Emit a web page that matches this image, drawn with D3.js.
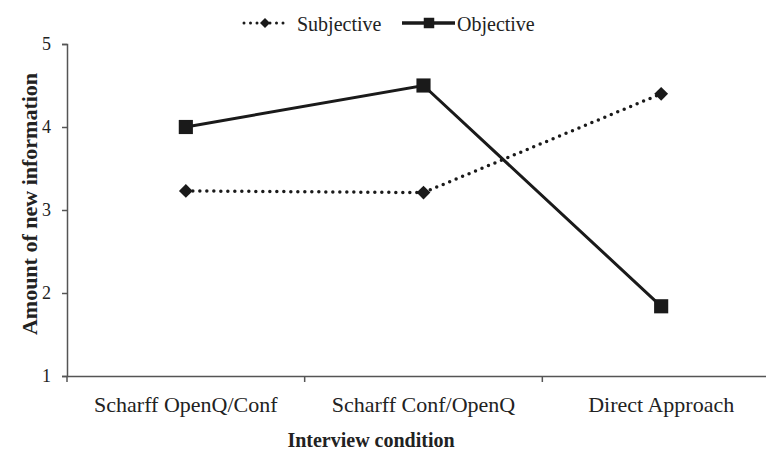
<!DOCTYPE html>
<html lang="en">
<head>
    <meta charset="UTF-8">
    <title>Amount of new information</title>
    <script src="https://cdn.jsdelivr.net/npm/d3@7"></script>
    <style>
        body { margin: 0; background: #fff; }
        text { font-family: "Liberation Serif", "Times New Roman", serif; fill: #222; }
    </style>
</head>
<body>
<script>
    const categories = ['Scharff OpenQ/Conf', 'Scharff Conf/OpenQ', 'Direct Approach']
    const subjective = [3.23, 3.21, 4.40]
    const objective = [4.0, 4.5, 1.84]
    const yTicks = [1, 2, 3, 4, 5]

    const [width, height] = [766, 452]
    const x = d3.scaleBand().domain(categories).range([67, 780])
    const y = d3.scaleLinear().domain([1, 5]).range([376, 44])
    const cx = d => x(d) + x.bandwidth() / 2

    const svg = d3.select('body').append('svg')
        .attr('width', width)
        .attr('height', height)

    // axes
    const yAxis = svg.append('g').attr('transform', 'translate(67,0)')
        .call(d3.axisLeft(y).tickValues(yTicks).tickFormat(d3.format('d')).tickSizeOuter(0).tickSize(5).tickPadding(11))
    yAxis.selectAll('text').style('font-size', '18px').attr('fill', '#222')
    const xAxis = svg.append('g').attr('transform', 'translate(0,376)')
        .call(d3.axisBottom(x).tickSizeOuter(0).tickSize(0).tickPadding(20))
    xAxis.selectAll('text').style('font-size', '22px').attr('fill', '#222')
    // boundary ticks between categories
    xAxis.selectAll('line.sep')
        .data(categories)
        .enter().append('line').attr('class', 'sep')
        .attr('x1', d => x(d)).attr('x2', d => x(d))
        .attr('y1', 0).attr('y2', 6)
    svg.selectAll('.domain, .tick line, line.sep').attr('stroke', '#555').attr('stroke-width', 1.5)

    svg.append('text')
        .attr('x', 371).attr('y', 447)
        .attr('text-anchor', 'middle')
        .style('font-size', '20px').style('font-weight', 'bold')
        .text('Interview condition')
    svg.append('text')
        .attr('transform', 'translate(37,204) rotate(-90)')
        .attr('text-anchor', 'middle')
        .style('font-size', '22px').style('font-weight', 'bold')
        .text('Amount of new information')

    // lines
    const line = d3.line()
        .x((d, i) => cx(categories[i]))
        .y(d => y(d))

    svg.append('path').datum(subjective)
        .attr('fill', 'none').attr('stroke', '#1a1a1a')
        .attr('stroke-width', 3.5).attr('stroke-linecap', 'round')
        .attr('stroke-dasharray', '0 7')
        .attr('d', line)
    svg.append('path').datum(objective)
        .attr('fill', 'none').attr('stroke', '#1a1a1a')
        .attr('stroke-width', 3)
        .attr('d', line)

    const square = d3.symbol().type(d3.symbolSquare)

    svg.append('g').selectAll('path')
        .data(subjective)
        .enter().append('path')
        .attr('transform', (d, i) => `translate(${cx(categories[i])},${y(d)}) rotate(45)`)
        .attr('d', square.size(95)())
        .attr('fill', '#1a1a1a')
    svg.append('g').selectAll('path')
        .data(objective)
        .enter().append('path')
        .attr('transform', (d, i) => `translate(${cx(categories[i])},${y(d)})`)
        .attr('d', square.size(200)())
        .attr('fill', '#1a1a1a')

    // legend
    const legend = svg.append('g').attr('transform', 'translate(0,23)')
    legend.append('line')
        .attr('x1', 244).attr('x2', 286).attr('y1', 0).attr('y2', 0)
        .attr('stroke', '#1a1a1a').attr('stroke-width', 3)
        .attr('stroke-linecap', 'round').attr('stroke-dasharray', '0 6.5')
    legend.append('path')
        .attr('transform', 'translate(265,0) rotate(45)')
        .attr('d', square.size(50)())
        .attr('fill', '#1a1a1a')
    legend.append('text').attr('x', 297).attr('y', 8).style('font-size', '20px').text('Subjective')
    legend.append('line')
        .attr('x1', 402).attr('x2', 455).attr('y1', 0).attr('y2', 0)
        .attr('stroke', '#1a1a1a').attr('stroke-width', 3.5)
    legend.append('path')
        .attr('transform', 'translate(429,0)')
        .attr('d', square.size(110)())
        .attr('fill', '#1a1a1a')
    legend.append('text').attr('x', 457).attr('y', 8).style('font-size', '20px').text('Objective')
</script>
</body>
</html>
